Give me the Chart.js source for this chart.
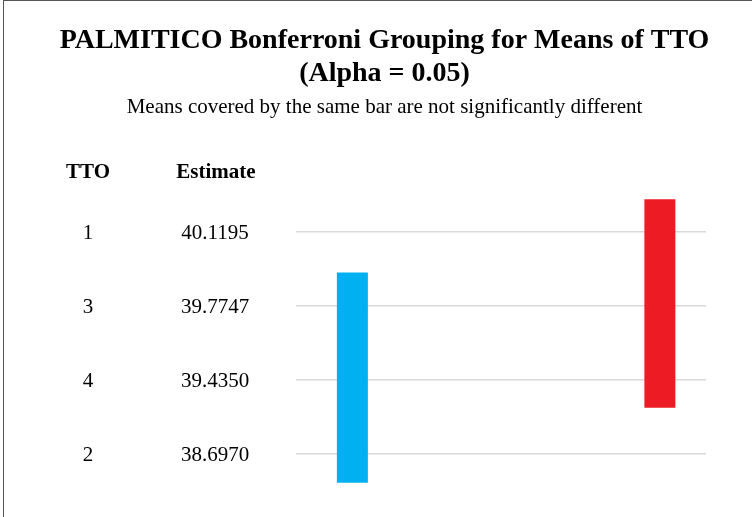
<!DOCTYPE html>
<html lang="en">
<head>
<meta charset="UTF-8">
<title>Bonferroni Grouping</title>
<script src="https://cdn.jsdelivr.net/npm/chart.js"></script>
<style>
    html, body { margin: 0; padding: 0; background: #fff; overflow: hidden; }
    .wrap { position: relative; width: 752px; height: 517px; }
    .frame { position: absolute; left: 3px; top: 0px; width: 800px; height: 600px;
             border-left: 1.5px solid #555; border-top: 1.5px solid #555; box-sizing: border-box; }
    canvas { position: absolute; left: 0; top: 0; }
</style>
</head>
<body>
<div class="wrap">
    <div class="frame"></div>
    <canvas id="grupos" width="752" height="517"></canvas>
</div>
<script>
    // rows of the table, top to bottom (rank 1..4)
    const ttoLevels = ['1', '3', '4', '2'];
    const estimates = ['40.1195', '39.7747', '39.4350', '38.6970'];
    const rowRanks = [1, 2, 3, 4];

    // grouping bars: span in row ranks, and slot on the horizontal axis
    const groupNames = ['B', 'A'];
    const groupSlots = [1, 4];
    const groupSpans = [[1.546, 4.388], [0.557, 3.373]];
    const groupColors = ['#00B0F0', '#ED1C24'];

    const serif = "'Liberation Serif', 'Times New Roman', serif";

    const tablePlugin = {
        id: 'tabela',
        afterDraw(chart) {
            const ctx = chart.ctx;
            const y = chart.scales.y;
            ctx.save();
            ctx.fillStyle = '#000';
            ctx.textAlign = 'center';
            ctx.textBaseline = 'middle';
            ctx.font = 'bold 21px ' + serif;
            ctx.fillText('TTO', 88, y.getPixelForValue(0.19));
            ctx.fillText('Estimate', 216, y.getPixelForValue(0.19));
            ctx.font = '21px ' + serif;
            rowRanks.forEach((r, i) => {
                const py = y.getPixelForValue(r) + 1;
                ctx.fillText(ttoLevels[i], 88, py);
                ctx.fillText(estimates[i], 215, py);
            });
            ctx.restore();
        }
    };

    new Chart(document.getElementById('grupos'), {
        type: 'bar',
        data: {
            datasets: groupNames.map((g, i) => ({
                label: g,
                data: [{ x: groupSlots[i], y: groupSpans[i] }],
                backgroundColor: groupColors[i],
                borderWidth: 0,
                grouped: false,
                maxBarThickness: 31
            }))
        },
        options: {
            responsive: false,
            animation: false,
            layout: { padding: { left: 17, right: 0, top: 0, bottom: 26 } },
            plugins: {
                legend: { display: false },
                tooltip: { enabled: false },
                title: {
                    display: true,
                    text: ['PALMITICO Bonferroni Grouping for Means of TTO', '(Alpha = 0.05)'],
                    color: '#000',
                    font: { family: serif, size: 28, weight: 'bold', lineHeight: 1.15 },
                    padding: { top: 25, bottom: 3 }
                },
                subtitle: {
                    display: true,
                    text: 'Means covered by the same bar are not significantly different',
                    color: '#000',
                    font: { family: serif, size: 21, lineHeight: 1.2 },
                    padding: { top: 2.5, bottom: 75 }
                }
            },
            scales: {
                x: { type: 'linear', min: 0.45, max: 4.45, offset: false, display: false },
                y: {
                    type: 'linear',
                    position: 'left',
                    reverse: true,
                    min: 0.5,
                    max: 4.5,
                    afterBuildTicks: s => { s.ticks = rowRanks.map(v => ({ value: v })); },
                    afterFit: s => { s.width = 279; },
                    ticks: { display: false },
                    border: { display: false },
                    grid: { color: '#d9d9d9', lineWidth: 1.5, drawTicks: false }
                },
                yRight: {
                    type: 'linear',
                    position: 'right',
                    afterFit: s => { s.width = 46; },
                    ticks: { display: false },
                    border: { display: false },
                    grid: { display: false }
                }
            }
        },
        plugins: [tablePlugin]
    });
</script>
</body>
</html>
